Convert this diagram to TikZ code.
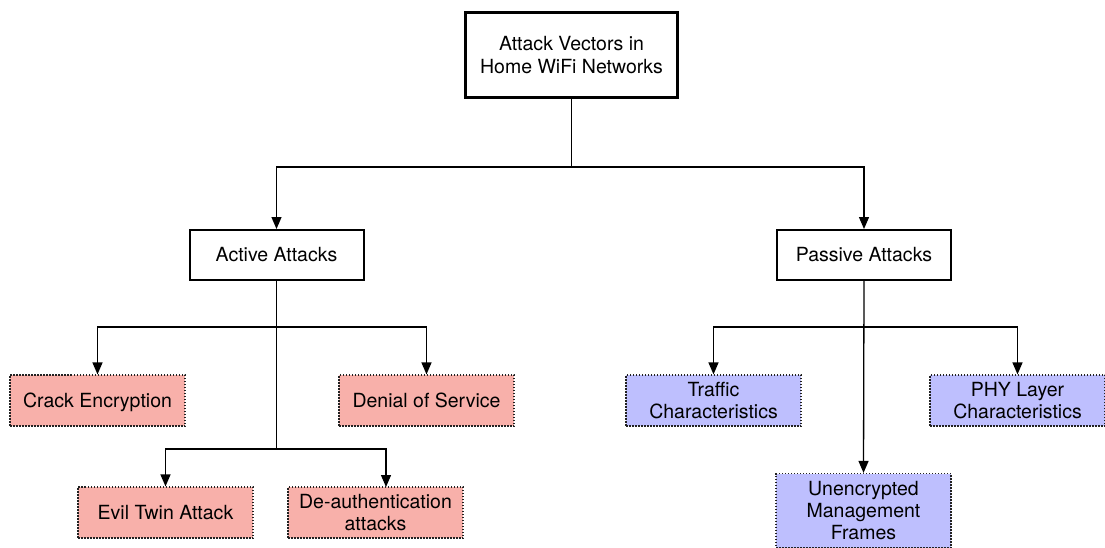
\documentclass[tikz,border=0pt]{standalone}
\usepackage{fontspec}
\setmainfont{TeX Gyre Heros}
\usetikzlibrary{arrows.meta}
\definecolor{redfill}{HTML}{F8B0AA}
\definecolor{bluefill}{HTML}{BEBFFE}
\definecolor{dotline}{HTML}{222222}
\tikzset{
  base/.style={rectangle, inner sep=0pt, align=center, font=\fontsize{19.5}{23}\selectfont},
  mainbox/.style={base, draw=black, line width=3pt},
  catbox/.style={base, draw=black, line width=2pt, minimum width=174pt, minimum height=50pt},
  leafbox/.style={base, draw=dotline, line width=1.2pt, dash pattern=on 1.5pt off 1.5pt, minimum width=175pt, minimum height=51pt, font=\fontsize{19.5}{22}\selectfont},
  oneline/.style={text height=18pt, text depth=4pt},
  redbox/.style={leafbox, fill=redfill},
  bluebox/.style={leafbox, fill=bluefill},
  conn/.style={draw=black, line width=1.3pt},
  arr/.style={conn, -{Triangle[length=12pt, width=10pt]}}
}
\begin{document}
\begin{tikzpicture}[x=1pt, y=-1pt]
\useasboundingbox (0,0) rectangle (1105,548);
\node[mainbox, minimum width=212pt, minimum height=85pt] (top) at (571.5,55) {Attack Vectors in\\Home WiFi Networks};
\node[catbox] (active) at (276.5,255) {Active Attacks};
\node[catbox] (passive) at (864,255) {Passive Attacks};
\node[redbox, oneline] (crack) at (97.5,400.5) {Crack Encryption};
\node[redbox, oneline] (denial) at (426.5,400.5) {Denial of Service};
\node[redbox, oneline] (evil) at (165.5,512.5) {Evil Twin Attack};
\node[redbox] (deauth) at (375.5,512.5) {De-authentication\\attacks};
\node[bluebox] (traffic) at (713.5,400.5) {Traffic\\Characteristics};
\node[bluebox] (phy) at (1017.5,400.5) {PHY Layer\\Characteristics};
\node[bluebox, minimum height=74pt] (unenc) at (863.5,510.5) {Unencrypted\\Management\\Frames};
\coordinate (j1) at (571.5,167);
\coordinate (j2) at (276.5,327);
\coordinate (j3) at (276.5,449);
\coordinate (j4) at (864,327);
\coordinate (dtop) at (386,487);
\draw[conn] (top.south) -- (j1);
\draw[arr] (j1) -| (active.north);
\draw[arr] (j1) -| (passive.north);
\draw[conn] (active.south) -- (j3);
\draw[arr] (j2) -| (crack.north);
\draw[arr] (j2) -| (denial.north);
\draw[arr] (j3) -| (evil.north);
\draw[arr] (j3) -| (dtop);
\draw[arr] (passive.south) -- (unenc.north);
\draw[arr] (j4) -| (traffic.north);
\draw[arr] (j4) -| (phy.north);
\end{tikzpicture}
\end{document}
